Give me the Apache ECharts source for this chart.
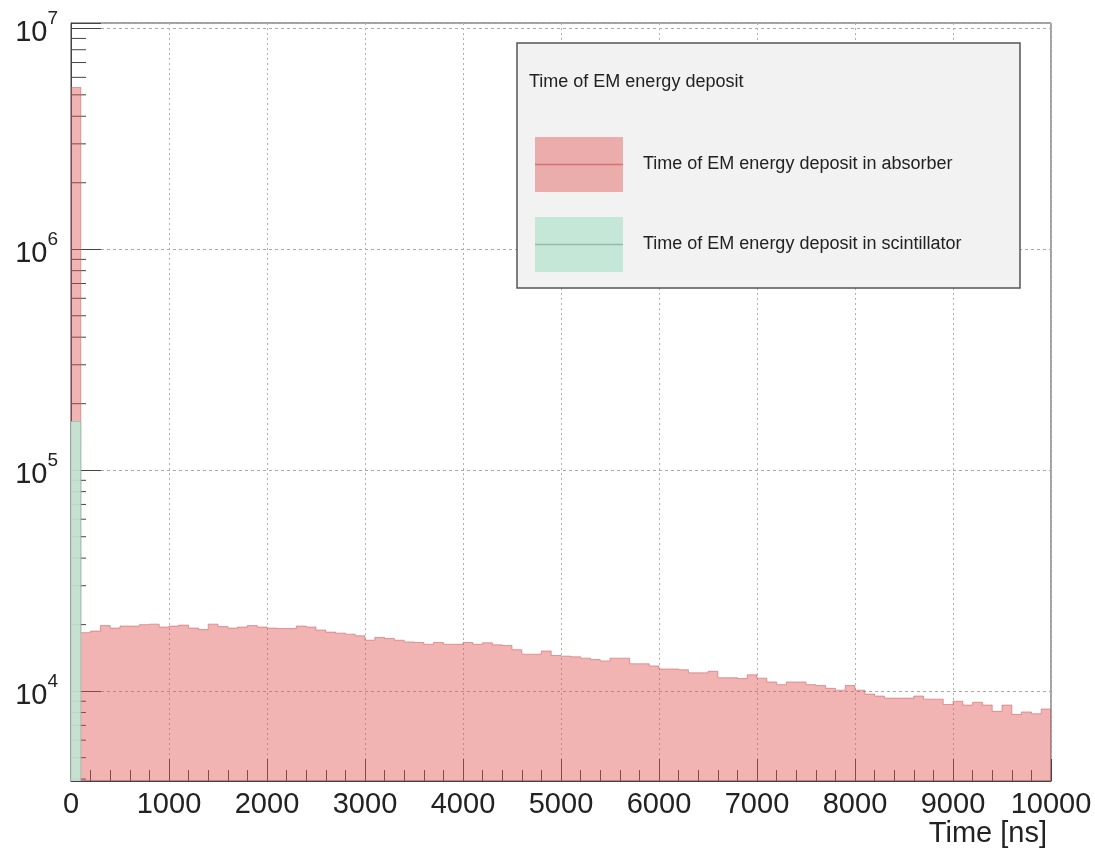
<!DOCTYPE html>
<html>
<head>
<meta charset="utf-8">
<script src="https://cdn.jsdelivr.net/npm/echarts@6/dist/echarts.min.js"></script>
<style>
  html, body { margin: 0; padding: 0; background: #ffffff; }
  #chart { width: 1095px; height: 848px; }
</style>
</head>
<body>
<div id="chart"></div>
<script>
// Histogram binning: 100 bins of 100 ns from 0 to 10000 ns
const BIN_WIDTH = 100;
const X_MIN = 0;
const X_MAX = 10000;
const X_TICKS = [0, 1000, 2000, 3000, 4000, 5000, 6000, 7000, 8000, 9000, 10000];

// Log y range
const Y_MIN = 3920;
const Y_MAX = 1.057e7;
const Y_DECADES = [1e4, 1e5, 1e6, 1e7];

// Entries per bin: EM energy deposit time in the absorber
const absorber = [
  5400000, 18400, 18700, 19800, 19300, 19700, 19700, 20000, 20100, 19500,
  19700, 19900, 19300, 19000, 20100, 19600, 19300, 19500, 19800, 19500,
  19300, 19200, 19200, 19700, 19500, 18900, 18500, 18300, 18100, 17800,
  17000, 17500, 17300, 17000, 16700, 16600, 16300, 16600, 16300, 16300,
  16600, 16300, 16550, 16200, 16100, 15400, 14700, 14700, 15200, 14500,
  14400, 14300, 14100, 13900, 13700, 14100, 14100, 13300, 13300, 13000,
  12600, 12600, 12500, 12100, 12100, 12300, 11500, 11500, 11400, 11850,
  11450, 11000, 10700, 11000, 11000, 10700, 10600, 10300, 10100, 10600,
  10100, 9700, 9500, 9300, 9300, 9300, 9500, 9200, 9200, 8700,
  9000, 8650, 8900, 8650, 8100, 8650, 7850, 8050, 7900, 8300
];

// Entries per bin in the scintillator (only the first bin rises above the axis floor)
const scintillator = [166000];

const SERIES_NAMES = [
  'Time of EM energy deposit in absorber',
  'Time of EM energy deposit in scintillator'
];

const RED_FILL = 'rgba(225, 78, 78, 0.43)';
const RED_EDGE = 'rgba(200, 95, 95, 0.55)';
const GREEN_FILL = 'rgba(192, 230, 213, 0.9)';
const GREEN_EDGE = 'rgba(140, 190, 170, 0.7)';
const FONT = '"Liberation Sans", Arial, Helvetica, sans-serif';

// Minor log ticks: 2..9 x 10^k inside the visible range
const minorTicks = [];
for (let e = 3; e <= 7; e++) {
  for (let m = 2; m <= 9; m++) {
    const v = m * Math.pow(10, e);
    if (v > Y_MIN && v < Y_MAX) minorTicks.push([X_MIN, v]);
  }
}

// Step outline of a histogram, built through the axis scales
function histogramRenderer(values, fill, edge) {
  return function (params, api) {
    const base = api.coord([X_MIN, Y_MIN])[1];
    const top = [];
    for (let i = 0; i < values.length; i++) {
      const x0 = api.coord([X_MIN + i * BIN_WIDTH, values[i]]);
      const x1 = api.coord([X_MIN + (i + 1) * BIN_WIDTH, values[i]]);
      top.push([x0[0], x0[1]], [x1[0], x1[1]]);
    }
    const first = top[0];
    const last = top[top.length - 1];
    const area = [[first[0], base]].concat(top, [[last[0], base]]);
    return {
      type: 'group',
      children: [
        { type: 'polygon', shape: { points: area }, style: { fill: fill, stroke: null } },
        { type: 'polyline', shape: { points: top.concat([[last[0], base]]) },
          style: { stroke: edge, lineWidth: 1, fill: null } }
      ]
    };
  };
}

const chart = echarts.init(document.getElementById('chart'), null, { renderer: 'canvas' });

chart.setOption({
  animation: false,
  backgroundColor: '#ffffff',
  textStyle: { fontFamily: FONT },
  grid: {
    left: 71, right: 44, top: 23, bottom: 66,
    show: true, borderColor: '#444', borderWidth: 1, backgroundColor: 'transparent'
  },
  title: {
    text: 'Time of EM energy deposit',
    left: 529, top: 73, padding: 0,
    textStyle: { fontSize: 18, fontWeight: 'normal', color: '#222', fontFamily: FONT }
  },
  legend: {
    data: SERIES_NAMES,
    orient: 'vertical',
    left: 535, top: 137,
    padding: 0,
    itemWidth: 88, itemHeight: 55, itemGap: 25,
    icon: 'rect',
    selectedMode: false,
    textStyle: { fontSize: 18, color: '#222', fontFamily: FONT, padding: [0, 0, 0, 15] },
    z: 5
  },
  graphic: [
    { type: 'rect', z: 3, shape: { x: 517, y: 43, width: 503, height: 245 },
      style: { fill: '#f2f2f2', stroke: '#555', lineWidth: 1.5 } },
    { type: 'line', z: 6, shape: { x1: 535, y1: 164.5, x2: 623, y2: 164.5 },
      style: { stroke: 'rgba(205,90,90,0.7)', lineWidth: 1.5 } },
    { type: 'line', z: 6, shape: { x1: 535, y1: 244.5, x2: 623, y2: 244.5 },
      style: { stroke: 'rgba(130,180,160,0.8)', lineWidth: 1.5 } }
  ],
  xAxis: {
    type: 'value',
    min: X_MIN, max: X_MAX, interval: 1000,
    name: 'Time [ns]',
    nameLocation: 'end',
    nameGap: -4,
    nameTextStyle: { fontSize: 29, color: '#222', align: 'right', verticalAlign: 'top',
                     padding: [38, 0, 0, 0], fontFamily: FONT },
    axisLine: { show: true, onZero: false, lineStyle: { color: '#444', width: 1 } },
    axisTick: { show: true, inside: true, length: 22, lineStyle: { color: '#444', width: 1 } },
    minorTick: { show: true, splitNumber: 5, length: 11, lineStyle: { color: '#444', width: 1 } },
    splitLine: { show: true, lineStyle: { color: '#b0b0b0', width: 1, type: [2, 3] } },
    axisLabel: {
      fontSize: 29, color: '#222', margin: 9, fontFamily: FONT,
      formatter: function (v) { return X_TICKS.indexOf(v) >= 0 ? String(v) : ''; }
    }
  },
  yAxis: {
    type: 'log',
    logBase: 10,
    min: Y_MIN, max: Y_MAX,
    splitNumber: 4,
    axisLine: { show: true, lineStyle: { color: '#444', width: 1 } },
    axisTick: { show: true, inside: true, length: 30, lineStyle: { color: '#444', width: 1 } },
    splitLine: { show: true, lineStyle: { color: '#a8a8a8', width: 1, type: [3, 3] } },
    axisLabel: {
      margin: 13,
      formatter: function (v) {
        const e = Math.round(Math.log10(v));
        const isDecade = Y_DECADES.some(function (d) { return Math.abs(v - d) / d < 1e-6; });
        return isDecade ? '{b|10}{s|' + e + '}' : '';
      },
      rich: {
        b: { fontSize: 29, color: '#222', fontFamily: FONT, lineHeight: 38, verticalAlign: 'bottom' },
        s: { fontSize: 19, color: '#222', fontFamily: FONT, lineHeight: 38, verticalAlign: 'top' }
      }
    }
  },
  series: [
    {
      name: 'minor-ticks',
      type: 'custom',
      silent: true,
      z: 1,
      data: minorTicks,
      renderItem: function (params, api) {
        const p = api.coord([api.value(0), api.value(1)]);
        return {
          type: 'line',
          shape: { x1: p[0], y1: p[1], x2: p[0] + 15, y2: p[1] },
          style: { stroke: '#444', lineWidth: 1 }
        };
      }
    },
    {
      name: SERIES_NAMES[0],
      type: 'custom',
      silent: true,
      z: 2,
      clip: true,
      itemStyle: { color: RED_FILL },
      data: [[X_MIN, absorber[0]]],
      renderItem: histogramRenderer(absorber, RED_FILL, RED_EDGE)
    },
    {
      name: SERIES_NAMES[1],
      type: 'custom',
      silent: true,
      z: 3,
      clip: true,
      itemStyle: { color: GREEN_FILL },
      data: [[X_MIN, scintillator[0]]],
      renderItem: histogramRenderer(scintillator, GREEN_FILL, GREEN_EDGE)
    }
  ]
});
</script>
</body>
</html>
